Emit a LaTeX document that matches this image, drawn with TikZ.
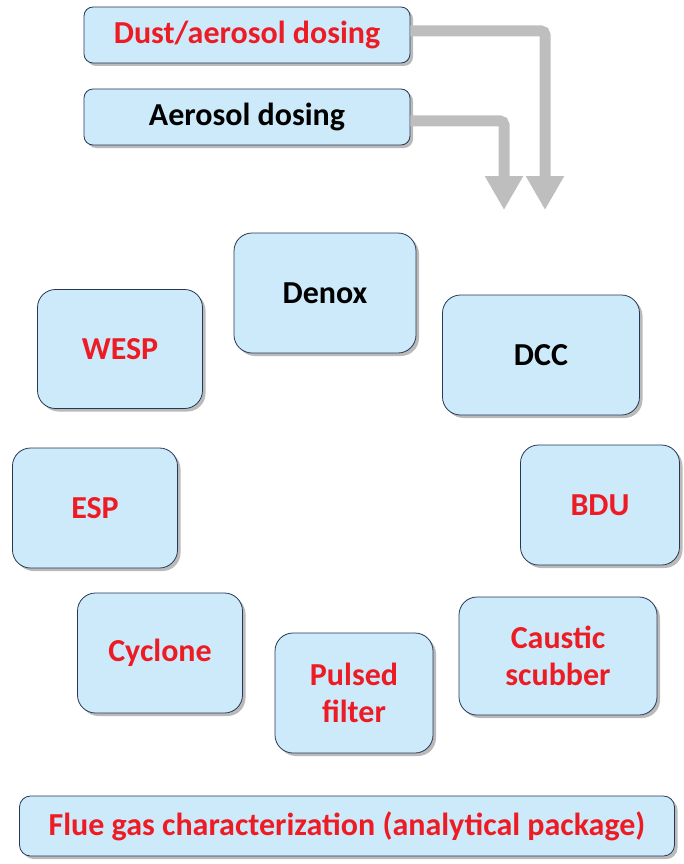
\documentclass[tikz,border=0pt]{standalone}
\usepackage{fontspec}
\setmainfont{Carlito}
\usetikzlibrary{arrows.meta,shadows}
\definecolor{boxfill}{RGB}{204,234,250}
\definecolor{boxline}{RGB}{40,55,85}
\definecolor{txtred}{RGB}{237,28,36}
\definecolor{flowgray}{RGB}{190,190,190}
\tikzset{
  unit/.style={draw=boxline, fill=boxfill, line width=0.8pt, rounded corners=18pt,
    align=center, font=\fontsize{32}{37}\selectfont\bfseries,
    drop shadow={shadow xshift=3pt, shadow yshift=-3pt, opacity=0.45, fill=black!60}},
  dosing/.style={unit, rounded corners=9pt, minimum width=326pt, minimum height=56pt},
  flow/.style={draw=flowgray, line width=11pt, rounded corners=4pt,
    -{Triangle[width=36pt,length=34pt]}}
}
\begin{document}
\begin{tikzpicture}[x=1pt,y=-1pt]
  \useasboundingbox (0,0) rectangle (683,864);
  % dosing
  \node[dosing, text=txtred] (dust) at (247,35) {Dust/aerosol dosing};
  \node[dosing] (aerosol) at (247,117) {Aerosol dosing};
  \coordinate (tipdust) at (545,210);
  \coordinate (tipaerosol) at (504,210);
  \draw[flow] ([yshift=4pt]dust.east) -| (tipdust);
  \draw[flow] ([yshift=-4pt]aerosol.east) -| (tipaerosol);
  % units
  \node[unit, minimum width=182pt, minimum height=120pt] (denox) at (325,293) {Denox};
  \node[unit, minimum width=165pt, minimum height=119pt, text=txtred] (wesp) at (120,349) {WESP};
  \node[unit, minimum width=197pt, minimum height=120pt] (dcc) at (541,355) {DCC};
  \node[unit, minimum width=165pt, minimum height=120pt, text=txtred] (esp) at (95,508) {ESP};
  \node[unit, minimum width=159pt, minimum height=120pt, text=txtred] (bdu) at (600,505) {BDU};
  \node[unit, minimum width=165pt, minimum height=120pt, text=txtred] (cyclone) at (160,653) {Cyclone};
  \node[unit, minimum width=158pt, minimum height=120pt, text=txtred] (pulsed) at (354,693) {Pulsed\\filter};
  \node[unit, minimum width=198pt, minimum height=118pt, text=txtred] (caustic) at (558,656) {Caustic\\scubber};
  % analytics
  \node[unit, rounded corners=11pt, minimum width=655pt, minimum height=60pt, text=txtred] (flue) at (347,826)
    {Flue gas characterization (analytical package)};
\end{tikzpicture}
\end{document}
